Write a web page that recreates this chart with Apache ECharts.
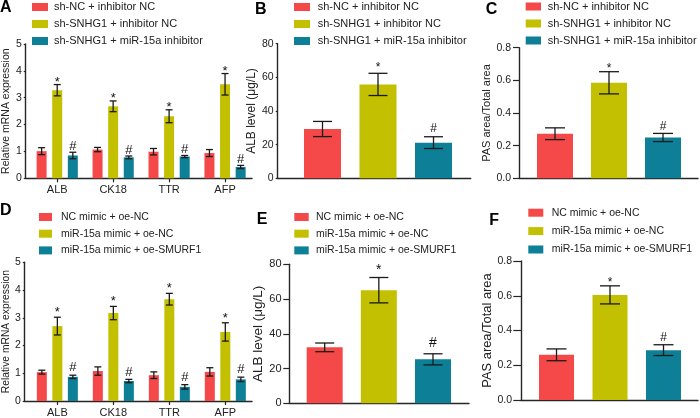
<!DOCTYPE html>
<html><head><meta charset="utf-8">
<script src="https://cdn.jsdelivr.net/npm/echarts@6/dist/echarts.min.js"></script>
<style>html,body{margin:0;padding:0;background:#fff}#c{width:700px;height:418px}</style>
</head><body><div id="c"></div>
<script>
// ---------- data ----------
const genes = ['ALB', 'CK18', 'TTR', 'AFP'];
const groupsTop = ['sh-NC + inhibitor NC', 'sh-SNHG1 + inhibitor NC', 'sh-SNHG1 + miR-15a inhibitor'];
const groupsBottom = ['NC mimic + oe-NC', 'miR-15a mimic + oe-NC', 'miR-15a mimic + oe-SMURF1'];
const sigMarks = ['', '*', '#'];

// Panel A: relative mRNA expression
const aRed = [1.01, 1.07, 0.99, 0.94];
const aRedErr = [0.13, 0.08, 0.12, 0.13];
const aYellow = [3.28, 2.68, 2.31, 3.50];
const aYellowErr = [0.21, 0.20, 0.24, 0.40];
const aTeal = [0.85, 0.78, 0.81, 0.42];
const aTealErr = [0.12, 0.05, 0.04, 0.06];

// Panel B: ALB level (ug/L)
const bValues = [29.3, 55.8, 21.2];
const bErrors = [4.5, 6.6, 3.5];

// Panel C: PAS area / total area
const cValues = [0.273, 0.585, 0.250];
const cErrors = [0.036, 0.068, 0.025];

// Panel D: relative mRNA expression
const dRed = [1.04, 1.08, 0.93, 1.05];
const dRedErr = [0.07, 0.15, 0.12, 0.15];
const dYellow = [2.70, 3.17, 3.67, 2.49];
const dYellowErr = [0.32, 0.24, 0.21, 0.33];
const dTeal = [0.87, 0.72, 0.51, 0.78];
const dTealErr = [0.06, 0.06, 0.08, 0.08];

// Panel E: ALB level (ug/L)
const eValues = [32.2, 65.1, 25.3];
const eErrors = [2.5, 7.3, 3.2];

// Panel F: PAS area / total area
const fValues = [0.260, 0.605, 0.287];
const fErrors = [0.034, 0.052, 0.031];

// ---------- styles ----------
const colors = ['#f54848', '#c2c000', '#0d7f96'];
const FONT = '"Liberation Sans", Arial, Helvetica, sans-serif';
const axisColor = '#262626';
const textColor = '#222';

const panels = [
  { letter: 'A', lx: 0, ly: 7.5, grouped: true, names: groupsTop,
    vals: [aRed, aYellow, aTeal], errs: [aRedErr, aYellowErr, aTealErr],
    grid: { left: 22, top: 44, width: 230, height: 134.3 }, xMin: 0.4374, xMax: 4.4817,
    yMax: 5, yInt: 1, yDec: 0, yName: 'Relative mRNA expression', nameGap: 11, nameSize: 10.5,
    tickLen: 2, labelMargin: 4, labelSize: 10.5, barW: 10, gapPx: 5.6, cap: 7,
    starGap: 5.3, hashGap: 6, markSize: 13,
    legend: { left: 32, top: 1.5, w: 16, gap: 6, size: 11, pad: 1 } },
  { letter: 'B', lx: 255, ly: 9.2, grouped: false, names: groupsTop,
    vals: bValues, errs: bErrors,
    grid: { left: 277.7, top: 43.7, width: 193, height: 134.6 }, xMin: 0.193, xMax: 3.67,
    yMax: 80, yInt: 20, yDec: 0, yName: 'ALB level (μg/L)', nameGap: 10.5, nameSize: 12,
    tickLen: 2, labelMargin: 4, labelSize: 10.5, barW: 37, cap: 19,
    starGap: 8.7, hashGap: 8.3, markSize: 12,
    legend: { left: 294, top: 1.5, w: 16, gap: 6, size: 11, pad: 2.7 } },
  { letter: 'C', lx: 485.7, ly: 9.5, grouped: false, names: groupsTop,
    vals: cValues, errs: cErrors,
    grid: { left: 519, top: 47.7, width: 179, height: 130.6 }, xMin: 0.3333, xMax: 3.648,
    yMax: 0.8, yInt: 0.2, yDec: 1, yName: 'PAS area/Total area', nameGap: 25, nameSize: 11,
    tickLen: 6, labelMargin: 8, labelSize: 10.5, barW: 36, cap: 20,
    starGap: 5.7, hashGap: 6.7, markSize: 12,
    legend: { left: 525.7, top: 1, w: 15.3, gap: 6, size: 11, pad: 1.7 } },
  { letter: 'D', lx: 0, ly: 210.5, grouped: true, names: groupsBottom,
    vals: [dRed, dYellow, dTeal], errs: [dRedErr, dYellowErr, dTealErr],
    grid: { left: 22, top: 262.3, width: 230, height: 139.4 }, xMin: 0.4175, xMax: 4.4765,
    yMax: 5, yInt: 1, yDec: 0, yName: 'Relative mRNA expression', nameGap: 11, nameSize: 10.3,
    tickLen: 2, labelMargin: 4, labelSize: 10.5, barW: 10, gapPx: 5.5, cap: 7,
    starGap: 8, hashGap: 7.3, markSize: 13,
    legend: { left: 39, top: 211.5, w: 13, gap: 5.7, size: 10.5, pad: 4 } },
  { letter: 'E', lx: 256.7, ly: 220, grouped: false, names: groupsBottom,
    vals: eValues, errs: eErrors,
    grid: { left: 289, top: 264.3, width: 180, height: 139 }, xMin: 0.341, xMax: 3.665,
    yMax: 80, yInt: 20, yDec: 0, yName: 'ALB level (μg/L)', nameGap: 22, nameSize: 13.5,
    tickLen: 5.7, labelMargin: 7.5, labelSize: 11, barW: 36, cap: 19,
    starGap: 11, hashGap: 10.7, markSize: 14,
    legend: { left: 294.3, top: 211.5, w: 14.4, gap: 5.7, size: 10.5, pad: 2.3 } },
  { letter: 'F', lx: 489.3, ly: 220.4, grouped: false, names: groupsBottom,
    vals: fValues, errs: fErrors,
    grid: { left: 521, top: 261, width: 177, height: 139 }, xMin: 0.336, xMax: 3.645,
    yMax: 0.8, yInt: 0.2, yDec: 1, yName: 'PAS area/Total area', nameGap: 26.7, nameSize: 12.9,
    tickLen: 7.7, labelMargin: 9, labelSize: 10.5, barW: 35, cap: 20,
    starGap: 5.7, hashGap: 6.7, markSize: 12,
    legend: { left: 528.3, top: 207.2, w: 15, gap: 7.4, size: 10.5, pad: 3.4 } }
];

const option = { animation: false, grid: [], xAxis: [], yAxis: [], series: [], legend: [], graphic: [] };

panels.forEach((p, pi) => {
  option.grid.push(Object.assign({ containLabel: false }, p.grid));
  const xAx = {
    gridIndex: pi, type: 'value', min: p.xMin, max: p.xMax,
    axisLine: { show: true, lineStyle: { color: axisColor, width: 1.4 } },
    splitLine: { show: false },
    axisTick: { show: false },
    axisLabel: { show: false }
  };
  if (p.grouped) {
    const cv = genes.map((g, j) => j + 1);
    xAx.axisTick = { show: true, customValues: cv, length: 4, lineStyle: { color: axisColor, width: 1.2 } };
    xAx.axisLabel = { show: true, customValues: cv, margin: 6, fontSize: 11, fontFamily: FONT, color: textColor,
      formatter: v => genes[Math.round(v) - 1] || '' };
  }
  option.xAxis.push(xAx);
  option.yAxis.push({
    gridIndex: pi, type: 'value', min: 0, max: p.yMax, interval: p.yInt,
    name: p.yName, nameLocation: 'middle', nameGap: p.nameGap,
    nameTextStyle: { fontSize: p.nameSize, fontFamily: FONT, color: textColor },
    axisLine: { show: true, lineStyle: { color: axisColor, width: 1.4 } },
    axisTick: { show: true, length: p.tickLen, lineStyle: { color: axisColor, width: 1.2 } },
    axisLabel: { margin: p.labelMargin, fontSize: p.labelSize, fontFamily: FONT, color: textColor,
      formatter: v => v.toFixed(p.yDec) },
    splitLine: { show: false }
  });

  const errRows = [];
  const marks = [];
  for (let i = 0; i < 3; i++) {
    let data;
    if (p.grouped) {
      data = genes.map((g, j) => [j + 1, p.vals[i][j]]);
      genes.forEach((g, j) => {
        errRows.push([j + 1, p.vals[i][j], p.errs[i][j], (i - 1) * (p.barW + p.gapPx)]);
        marks.push(sigMarks[i]);
      });
    } else {
      data = [[i + 1, p.vals[i]]];
      errRows.push([i + 1, p.vals[i], p.errs[i], 0]);
      marks.push(sigMarks[i]);
    }
    option.series.push({
      type: 'bar', name: p.names[i], xAxisIndex: pi, yAxisIndex: pi,
      data: data, barWidth: p.barW,
      barGap: p.grouped ? (p.gapPx / p.barW * 100) + '%' : '-100%',
      itemStyle: { color: colors[i] }, z: 2
    });
  }
  option.series.push({
    type: 'custom', xAxisIndex: pi, yAxisIndex: pi, z: 5, clip: false,
    dimensions: ['x', 'y', 'e', 'o'], encode: { x: 0, y: 1 },
    data: errRows,
    renderItem: (params, api) => {
      const x = api.value(0), y = api.value(1), e = api.value(2), off = api.value(3);
      const top = api.coord([x, y + e]);
      const bot = api.coord([x, y - e]);
      const cx = top[0] + off;
      const h = p.cap / 2;
      const st = { stroke: '#1a1a1a', lineWidth: 1.3 };
      const children = [
        { type: 'line', shape: { x1: cx, y1: top[1], x2: cx, y2: bot[1] }, style: st },
        { type: 'line', shape: { x1: cx - h, y1: top[1], x2: cx + h, y2: top[1] }, style: st },
        { type: 'line', shape: { x1: cx - h, y1: bot[1], x2: cx + h, y2: bot[1] }, style: st }
      ];
      const m = marks[params.dataIndex];
      if (m) {
        const isStar = m === '*';
        const gap = isStar ? p.starGap : p.hashGap;
        const ty = top[1] - gap + (isStar ? 0.25 * p.markSize : 0);
        children.push({ type: 'text', style: { text: m, x: cx, y: ty, align: 'center', verticalAlign: 'middle',
          fontSize: p.markSize, fontFamily: FONT, fill: '#111' } });
      }
      return { type: 'group', children: children };
    }
  });

  option.legend.push({
    orient: 'vertical', left: p.legend.left, top: p.legend.top,
    data: p.names, icon: 'rect', itemWidth: p.legend.w, itemHeight: 8, itemGap: p.legend.gap,
    selectedMode: false, padding: 0,
    textStyle: { fontSize: p.legend.size, fontFamily: FONT, color: textColor, lineHeight: 11,
      padding: [0, 0, 0, p.legend.pad] }
  });

  option.graphic.push({
    type: 'text', x: p.lx, y: p.ly,
    style: { text: p.letter, font: 'bold 16px ' + FONT, fill: '#000', verticalAlign: 'middle' }
  });
});

const chart = echarts.init(document.getElementById('c'), null, { renderer: 'canvas' });
chart.setOption(option);
</script>
</body></html>
